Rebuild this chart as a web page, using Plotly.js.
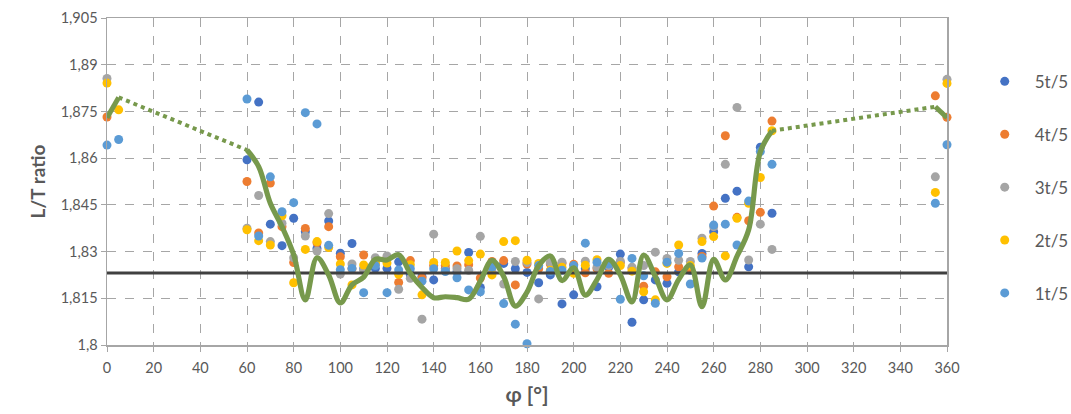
<!DOCTYPE html>
<html>
<head>
<meta charset="utf-8">
<script src="https://cdn.plot.ly/plotly-3.0.1.min.js"></script>
<style>
html,body{margin:0;padding:0;background:#fff;}
#chart{width:1071px;height:414px;}
</style>
</head>
<body>
<div id="chart"></div>
<script>
// ---- data ----
var angles = [0,5,60,65,70,75,80,85,90,95,100,105,110,115,120,125,130,135,140,145,150,155,160,165,170,175,180,185,190,195,200,205,210,215,220,225,230,235,240,245,250,255,260,265,270,275,280,285,355,360];

var s5 = [null,null,1.8595,1.878,1.8388,1.8319,1.8407,1.8364,1.831,1.8398,1.8295,1.8326,1.8245,1.8246,1.8246,1.8267,1.8225,1.822,1.8209,1.8245,1.8235,1.8297,1.8185,1.826,1.8262,1.8245,1.8233,1.820,1.8225,1.8132,1.8161,1.8245,1.8187,1.825,1.8292,1.8073,1.8145,1.8209,1.8198,1.8235,1.824,1.8294,1.8364,1.8471,1.8494,1.8251,1.8635,1.8423,null,null];
var s4 = [1.8732,null,1.8525,1.836,1.852,1.838,1.8265,1.8374,1.8328,1.838,1.8283,1.8245,1.8289,1.826,1.828,1.8201,1.8271,1.8215,1.8255,1.8255,1.8254,1.8258,1.8215,1.8268,1.8271,1.8193,1.826,1.8245,1.826,1.8262,1.8259,1.8232,1.8245,1.823,1.8265,1.8245,1.8189,1.8235,1.8219,1.8251,1.8245,1.8284,1.8446,1.8672,1.841,1.8399,1.8426,1.8719,1.880,1.8731];
var s3 = [1.8856,null,1.8375,1.848,1.8332,1.8391,1.828,1.835,1.8302,1.8422,1.8228,1.826,1.824,1.828,1.8286,1.8179,1.8214,1.8083,1.8356,1.824,1.8245,1.824,1.8349,1.8236,1.8196,1.8268,1.8265,1.8148,1.8264,1.8266,1.8245,1.8269,1.825,1.8255,1.8268,1.825,1.8255,1.8298,1.8278,1.8272,1.8268,1.8343,1.838,1.858,1.8763,1.8273,1.8388,1.8307,1.854,1.8853];
var s2 = [1.8841,1.8755,1.837,1.8335,1.8321,1.8415,1.820,1.8307,1.8332,1.8313,1.826,1.8193,1.8257,1.8265,1.8263,1.8227,1.8258,1.8161,1.8265,1.8265,1.8302,1.8271,1.8292,1.8225,1.8332,1.8335,1.8272,1.8262,1.824,1.825,1.823,1.8256,1.8274,1.8265,1.8255,1.8237,1.8171,1.8145,1.8262,1.8321,1.8255,1.8332,1.8348,1.8286,1.8407,1.8455,1.8538,1.8688,1.849,1.884];
var s1 = [1.8642,1.866,1.879,1.835,1.854,1.8428,1.8457,1.8746,1.871,1.832,1.8242,1.8246,1.8168,1.8255,1.8168,1.8241,1.8245,1.8205,1.8245,1.8236,1.8216,1.8177,1.8171,1.825,1.8133,1.8067,1.8004,1.8255,1.8236,1.824,1.8255,1.8327,1.8266,1.826,1.8147,1.8278,1.8222,1.8134,1.8266,1.8294,1.8196,1.8279,1.8385,1.8388,1.8321,1.8462,1.8621,1.858,1.8455,1.8643];

var trend = [1.8730,1.8795,1.8626,1.8573,1.8455,1.838,1.829,1.8145,1.828,1.8225,1.8135,1.8193,1.8218,1.8275,1.8273,1.829,1.823,1.8185,1.8152,1.8155,1.8152,1.8147,1.8205,1.8272,1.822,1.8125,1.817,1.8255,1.8286,1.8207,1.8248,1.816,1.821,1.8275,1.8225,1.8138,1.8289,1.822,1.8145,1.821,1.8257,1.8123,1.8275,1.8209,1.8285,1.837,1.862,1.8688,1.8765,1.873];

var referenceLevel = 1.8231;

var seriesNames = ['5t/5','4t/5','3t/5','2t/5','1t/5'];
var seriesColors = ['#4472C4','#ED7D31','#A5A5A5','#FFC000','#5B9BD5'];

var yTickValues = [1.8,1.815,1.83,1.845,1.86,1.875,1.89,1.905];
var yTickLabels = ['1,8','1,815','1,83','1,845','1,86','1,875','1,89','1,905'];

// ---- build traces ----
var seriesData = [s5,s4,s3,s2,s1];
var traces = [];
for (var i=0;i<seriesData.length;i++){
  traces.push({
    type:'scatter', mode:'markers', name:seriesNames[i],
    x:angles, y:seriesData[i],
    marker:{color:seriesColors[i], size:9},
    legendgroup:'g'+i, cliponaxis:false
  });
}
traces.push({
  type:'scatter', mode:'lines', x:[0,360], y:[referenceLevel,referenceLevel],
  line:{color:'#404040', width:3}, showlegend:false, hoverinfo:'skip'
});

function idx(a){ return angles.indexOf(a); }
function seg(a0,a1,dash,w){
  var i0=idx(a0), i1=idx(a1);
  return {
    type:'scatter', mode:'lines',
    x:angles.slice(i0,i1+1), y:trend.slice(i0,i1+1),
    line:{color:'#77994C', width:w, dash:dash, shape:'spline', smoothing:1},
    showlegend:false, hoverinfo:'skip'
  };
}
traces.push(seg(0,5,'solid',5));
traces.push(seg(5,60,'dot',4));
traces.push(seg(60,285,'solid',5.2));
traces.push(seg(285,355,'dot',4));
traces.push(seg(355,360,'solid',5));

var fontFam = 'Lato, "Open Sans", sans-serif';
var layout = {
  width:1071, height:414,
  margin:{l:107, r:124, t:18, b:69, autoexpand:false},
  paper_bgcolor:'#ffffff', plot_bgcolor:'#ffffff',
  font:{family:fontFam, color:'#595959', size:14},
  showlegend:true,
  legend:{x:1.033, y:0.86, xanchor:'left', yanchor:'top',
          font:{family:fontFam, size:17, color:'#595959'},
          traceorder:'grouped', tracegroupgap:27.8, itemwidth:50},
  xaxis:{
    range:[0,360], tickmode:'linear', tick0:0, dtick:20,
    showgrid:true, gridcolor:'#A6A6A6', griddash:'dash', gridwidth:1,
    showline:true, linecolor:'#A6A6A6', linewidth:1.5, mirror:true,
    ticks:'outside', ticklen:5, tickcolor:'#A6A6A6',
    ticklabelstandoff:4,
    zeroline:false,
    tickfont:{family:fontFam, size:14.5, color:'#595959'},
    title:{text:'φ [°]', font:{family:fontFam, size:21, color:'#595959', weight:'bold'}, standoff:12}
  },
  yaxis:{
    range:[1.8,1.905], tickmode:'array', tickvals:yTickValues, ticktext:yTickLabels,
    showgrid:true, gridcolor:'#A6A6A6', griddash:'dash', gridwidth:1,
    showline:true, linecolor:'#A6A6A6', linewidth:1.5, mirror:true,
    ticks:'outside', ticklen:5, tickcolor:'#A6A6A6',
    zeroline:false,
    tickfont:{family:fontFam, size:14.5, color:'#595959'},
    title:{text:'L/T ratio', font:{family:fontFam, size:19, color:'#595959', weight:'bold'}, standoff:10}
  }
};

Plotly.newPlot('chart', traces, layout, {staticPlot:true, displayModeBar:false});
</script>
</body>
</html>
